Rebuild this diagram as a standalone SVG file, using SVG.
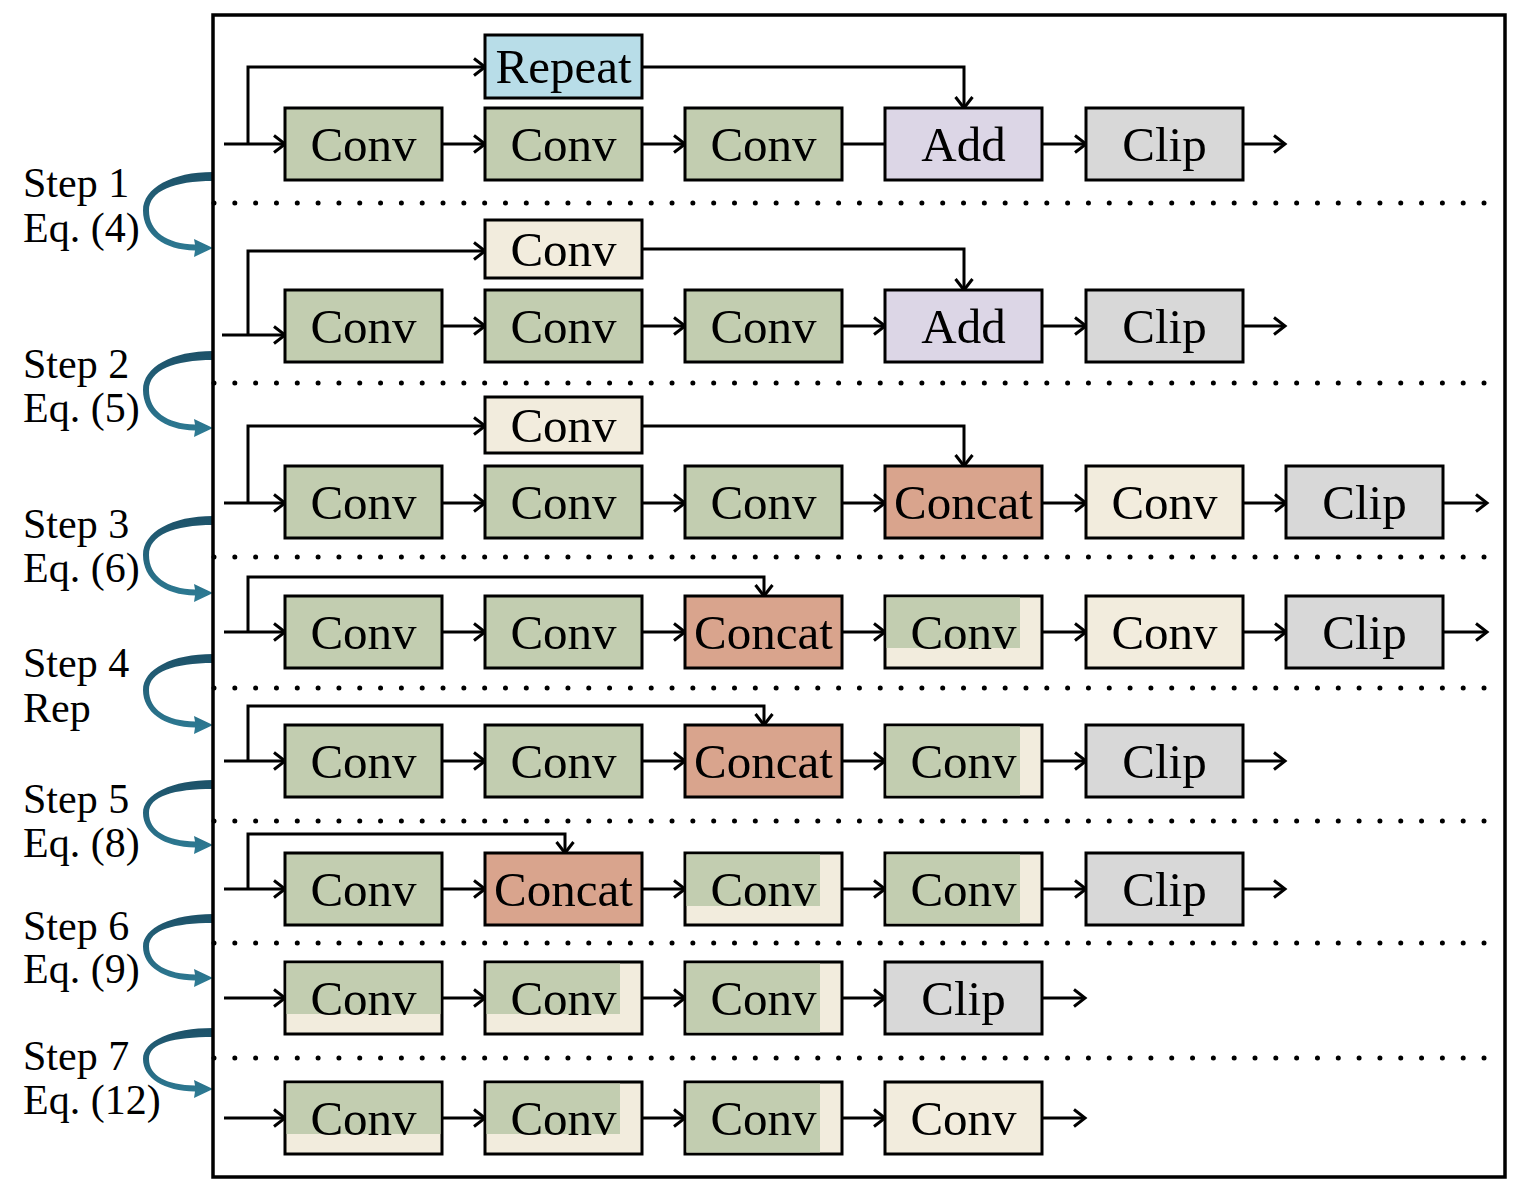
<svg xmlns="http://www.w3.org/2000/svg" width="1516" height="1195" viewBox="0 0 1516 1195">
<style>
.bx{stroke:#000;stroke-width:3}
.g{fill:#c2cdb0}.y{fill:#f2ecdd}.bl{fill:#b8dde8}.lv{fill:#dcd6e6}.gr{fill:#d8d8d8}.sa{fill:#d9a48d}
.t{font-family:"Liberation Serif","Times New Roman",serif;font-size:49px;text-anchor:middle;fill:#000}
.lb{font-family:"Liberation Serif","Times New Roman",serif;font-size:42px;fill:#000}
.c{fill:none;stroke:#000;stroke-width:3;marker-end:url(#ah)}
.n{fill:none;stroke:#000;stroke-width:3}
.dot{fill:none;stroke:#000;stroke-width:5;stroke-linecap:round;stroke-dasharray:0 20.82}
.cv{fill:url(#tg)}
</style>
<defs>
<marker id="ah" viewBox="0 0 15 20" refX="12.5" refY="10" markerWidth="15" markerHeight="20" markerUnits="userSpaceOnUse" orient="auto">
<path d="M1.5,1.5 L12.5,10 L1.5,18.5" fill="none" stroke="#000" stroke-width="3"/>
</marker>
<linearGradient id="tg" x1="0" y1="0" x2="0" y2="1">
<stop offset="0" stop-color="#1d5168"/>
<stop offset="1" stop-color="#2e7c95"/>
</linearGradient>
</defs>
<rect x="0" y="0" width="1516" height="1195" fill="#fff"/>

<g id="dotted">
<path class="dot" d="M214,203 H1485"/>
<path class="dot" d="M214,383 H1485"/>
<path class="dot" d="M214,557 H1485"/>
<path class="dot" d="M214,688 H1485"/>
<path class="dot" d="M214,821 H1485"/>
<path class="dot" d="M214,943 H1485"/>
<path class="dot" d="M214,1058 H1485"/>
</g>

<g id="connectors">
<!-- row 1 -->
<path class="c" d="M224,144 H285"/>
<path class="c" d="M248,144 V67 H485"/>
<path class="c" d="M442,144 H485"/>
<path class="c" d="M642,144 H685"/>
<path class="n" d="M842,144 H885"/>
<path class="c" d="M642,67 H964 V108"/>
<path class="c" d="M1043,144 H1086"/>
<path class="c" d="M1243,144 H1285"/>
<!-- row 2 -->
<path class="c" d="M222,335 H285"/>
<path class="c" d="M248,335 V251 H485"/>
<path class="c" d="M442,326 H485"/>
<path class="c" d="M642,326 H685"/>
<path class="c" d="M842,326 H885"/>
<path class="c" d="M642,249 H964 V290"/>
<path class="c" d="M1043,326 H1086"/>
<path class="c" d="M1243,326 H1285"/>
<!-- row 3 -->
<path class="c" d="M224,503 H285"/>
<path class="c" d="M248,503 V426 H485"/>
<path class="c" d="M442,503 H485"/>
<path class="c" d="M642,503 H685"/>
<path class="c" d="M842,503 H885"/>
<path class="c" d="M642,426 H964 V466"/>
<path class="c" d="M1043,503 H1086"/>
<path class="c" d="M1243,503 H1286"/>
<path class="c" d="M1443,503 H1487"/>
<!-- row 4 -->
<path class="c" d="M224,632 H285"/>
<path class="c" d="M248,632 V577 H764 V596"/>
<path class="c" d="M442,632 H485"/>
<path class="c" d="M642,632 H685"/>
<path class="c" d="M842,632 H885"/>
<path class="c" d="M1043,632 H1086"/>
<path class="c" d="M1243,632 H1286"/>
<path class="c" d="M1443,632 H1487"/>
<!-- row 5 -->
<path class="c" d="M224,761 H285"/>
<path class="c" d="M248,761 V706 H764 V725"/>
<path class="c" d="M442,761 H485"/>
<path class="c" d="M642,761 H685"/>
<path class="c" d="M842,761 H885"/>
<path class="c" d="M1043,761 H1086"/>
<path class="c" d="M1243,761 H1285"/>
<!-- row 6 -->
<path class="c" d="M224,889 H285"/>
<path class="c" d="M248,889 V834 H565 V853"/>
<path class="c" d="M442,889 H485"/>
<path class="c" d="M642,889 H685"/>
<path class="c" d="M842,889 H885"/>
<path class="c" d="M1043,889 H1086"/>
<path class="c" d="M1243,889 H1285"/>
<!-- row 7 -->
<path class="c" d="M224,998 H285"/>
<path class="c" d="M442,998 H485"/>
<path class="c" d="M642,998 H685"/>
<path class="c" d="M842,998 H885"/>
<path class="c" d="M1043,998 H1085"/>
<!-- row 8 -->
<path class="c" d="M224,1118 H285"/>
<path class="c" d="M442,1118 H485"/>
<path class="c" d="M642,1118 H685"/>
<path class="c" d="M842,1118 H885"/>
<path class="c" d="M1043,1118 H1085"/>
<!-- step arrows -->
<path class="cv" d="M213,172 C172,172 143,188 143,210.5 C143,234.5 164,250 195,250.5 L194,257 L213,248 L194,239 L195,244.5 C167,244 149,231.5 149,210.5 C149,191 174,181 213,181 Z"/>
<path class="cv" d="M213,351 C172,351 143,367 143,390 C143,414 164,430 195,430.5 L194,437 L213,428 L194,419 L195,424.5 C167,424 149,411 149,390 C149,370 174,360 213,360 Z"/>
<path class="cv" d="M213,516 C172,516 143,532 143,555 C143,579 164,595 195,595.5 L194,602 L213,593 L194,584 L195,589.5 C167,589 149,576 149,555 C149,535 174,525 213,525 Z"/>
<path class="cv" d="M213,654 C172,654 143,669 143,690 C143,712 164,727 195,727.5 L194,734 L213,725 L194,716 L195,721.5 C167,721 149,710 149,690 C149,672 174,663 213,663 Z"/>
<path class="cv" d="M213,780 C172,780 143,794 143,813 C143,833 164,847 195,847.5 L194,854 L213,845 L194,836 L195,841.5 C167,841 149,831 149,813 C149,796 174,789 213,789 Z"/>
<path class="cv" d="M213,914 C172,914 143,928 143,946.5 C143,966.5 164,980 195,980.5 L194,987 L213,978 L194,969 L195,974.5 C167,974 149,964 149,946.5 C149,930 174,923 213,923 Z"/>
<path class="cv" d="M213,1028 C172,1028 143,1041 143,1059 C143,1078 164,1091 195,1091.5 L194,1098 L213,1089 L194,1080 L195,1085.5 C167,1085 149,1076 149,1059 C149,1043 174,1037 213,1037 Z"/>
</g>

<rect id="frame" x="213" y="15" width="1292" height="1162" fill="none" stroke="#000" stroke-width="3.5"/>

<g id="labels">
<text class="lb" x="23" y="197">Step 1</text><text class="lb" x="23" y="242">Eq. (4)</text>
<text class="lb" x="23" y="378">Step 2</text><text class="lb" x="23" y="422">Eq. (5)</text>
<text class="lb" x="23" y="538">Step 3</text><text class="lb" x="23" y="582">Eq. (6)</text>
<text class="lb" x="23" y="677">Step 4</text><text class="lb" x="23" y="722">Rep</text>
<text class="lb" x="23" y="813">Step 5</text><text class="lb" x="23" y="857">Eq. (8)</text>
<text class="lb" x="23" y="940">Step 6</text><text class="lb" x="23" y="983">Eq. (9)</text>
<text class="lb" x="23" y="1070">Step 7</text><text class="lb" x="23" y="1114">Eq. (12)</text>
</g>

<!-- Row 1 -->
<g id="r1-repeat"><rect class="bx bl" x="485" y="35" width="157" height="63"/><text class="t" x="563.5" y="83">Repeat</text></g>
<g id="r1-conv1"><rect class="bx g" x="285" y="108" width="157" height="72"/><text class="t" x="363.5" y="160.5">Conv</text></g>
<g id="r1-conv2"><rect class="bx g" x="485" y="108" width="157" height="72"/><text class="t" x="563.5" y="160.5">Conv</text></g>
<g id="r1-conv3"><rect class="bx g" x="685" y="108" width="157" height="72"/><text class="t" x="763.5" y="160.5">Conv</text></g>
<g id="r1-add"><rect class="bx lv" x="885" y="108" width="157" height="72"/><text class="t" x="963.5" y="160.5">Add</text></g>
<g id="r1-clip"><rect class="bx gr" x="1086" y="108" width="157" height="72"/><text class="t" x="1164.5" y="160.5">Clip</text></g>

<!-- Row 2 -->
<g id="r2-convup"><rect class="bx y" x="485" y="220" width="157" height="58"/><text class="t" x="563.5" y="265.5">Conv</text></g>
<g id="r2-conv1"><rect class="bx g" x="285" y="290" width="157" height="72"/><text class="t" x="363.5" y="342.5">Conv</text></g>
<g id="r2-conv2"><rect class="bx g" x="485" y="290" width="157" height="72"/><text class="t" x="563.5" y="342.5">Conv</text></g>
<g id="r2-conv3"><rect class="bx g" x="685" y="290" width="157" height="72"/><text class="t" x="763.5" y="342.5">Conv</text></g>
<g id="r2-add"><rect class="bx lv" x="885" y="290" width="157" height="72"/><text class="t" x="963.5" y="342.5">Add</text></g>
<g id="r2-clip"><rect class="bx gr" x="1086" y="290" width="157" height="72"/><text class="t" x="1164.5" y="342.5">Clip</text></g>

<!-- Row 3 -->
<g id="r3-convup"><rect class="bx y" x="485" y="397" width="157" height="56"/><text class="t" x="563.5" y="441.5">Conv</text></g>
<g id="r3-conv1"><rect class="bx g" x="285" y="466" width="157" height="72"/><text class="t" x="363.5" y="518.5">Conv</text></g>
<g id="r3-conv2"><rect class="bx g" x="485" y="466" width="157" height="72"/><text class="t" x="563.5" y="518.5">Conv</text></g>
<g id="r3-conv3"><rect class="bx g" x="685" y="466" width="157" height="72"/><text class="t" x="763.5" y="518.5">Conv</text></g>
<g id="r3-concat"><rect class="bx sa" x="885" y="466" width="157" height="72"/><text class="t" x="963.5" y="518.5">Concat</text></g>
<g id="r3-conv4"><rect class="bx y" x="1086" y="466" width="157" height="72"/><text class="t" x="1164.5" y="518.5">Conv</text></g>
<g id="r3-clip"><rect class="bx gr" x="1286" y="466" width="157" height="72"/><text class="t" x="1364.5" y="518.5">Clip</text></g>

<!-- Row 4 -->
<g id="r4-conv1"><rect class="bx g" x="285" y="596" width="157" height="72"/><text class="t" x="363.5" y="648.5">Conv</text></g>
<g id="r4-conv2"><rect class="bx g" x="485" y="596" width="157" height="72"/><text class="t" x="563.5" y="648.5">Conv</text></g>
<g id="r4-concat"><rect class="bx sa" x="685" y="596" width="157" height="72"/><text class="t" x="763.5" y="648.5">Concat</text></g>
<g id="r4-conv3"><rect class="bx y" x="885" y="596" width="157" height="72"/><rect class="g" x="886.5" y="597.5" width="133.5" height="50.5"/><text class="t" x="963.5" y="648.5">Conv</text></g>
<g id="r4-conv4"><rect class="bx y" x="1086" y="596" width="157" height="72"/><text class="t" x="1164.5" y="648.5">Conv</text></g>
<g id="r4-clip"><rect class="bx gr" x="1286" y="596" width="157" height="72"/><text class="t" x="1364.5" y="648.5">Clip</text></g>

<!-- Row 5 -->
<g id="r5-conv1"><rect class="bx g" x="285" y="725" width="157" height="72"/><text class="t" x="363.5" y="777.5">Conv</text></g>
<g id="r5-conv2"><rect class="bx g" x="485" y="725" width="157" height="72"/><text class="t" x="563.5" y="777.5">Conv</text></g>
<g id="r5-concat"><rect class="bx sa" x="685" y="725" width="157" height="72"/><text class="t" x="763.5" y="777.5">Concat</text></g>
<g id="r5-conv3"><rect class="bx y" x="885" y="725" width="157" height="72"/><rect class="g" x="886.5" y="726.5" width="133.5" height="69"/><text class="t" x="963.5" y="777.5">Conv</text></g>
<g id="r5-clip"><rect class="bx gr" x="1086" y="725" width="157" height="72"/><text class="t" x="1164.5" y="777.5">Clip</text></g>

<!-- Row 6 -->
<g id="r6-conv1"><rect class="bx g" x="285" y="853" width="157" height="72"/><text class="t" x="363.5" y="905.5">Conv</text></g>
<g id="r6-concat"><rect class="bx sa" x="485" y="853" width="157" height="72"/><text class="t" x="563.5" y="905.5">Concat</text></g>
<g id="r6-conv2"><rect class="bx y" x="685" y="853" width="157" height="72"/><rect class="g" x="686.5" y="854.5" width="133.5" height="51.5"/><text class="t" x="763.5" y="905.5">Conv</text></g>
<g id="r6-conv3"><rect class="bx y" x="885" y="853" width="157" height="72"/><rect class="g" x="886.5" y="854.5" width="133.5" height="69"/><text class="t" x="963.5" y="905.5">Conv</text></g>
<g id="r6-clip"><rect class="bx gr" x="1086" y="853" width="157" height="72"/><text class="t" x="1164.5" y="905.5">Clip</text></g>

<!-- Row 7 -->
<g id="r7-conv1"><rect class="bx y" x="285" y="962" width="157" height="72"/><rect class="g" x="286.5" y="963.5" width="154" height="50.5"/><text class="t" x="363.5" y="1014.5">Conv</text></g>
<g id="r7-conv2"><rect class="bx y" x="485" y="962" width="157" height="72"/><rect class="g" x="486.5" y="963.5" width="133.5" height="50.5"/><text class="t" x="563.5" y="1014.5">Conv</text></g>
<g id="r7-conv3"><rect class="bx y" x="685" y="962" width="157" height="72"/><rect class="g" x="686.5" y="963.5" width="133.5" height="69"/><text class="t" x="763.5" y="1014.5">Conv</text></g>
<g id="r7-clip"><rect class="bx gr" x="885" y="962" width="157" height="72"/><text class="t" x="963.5" y="1014.5">Clip</text></g>

<!-- Row 8 -->
<g id="r8-conv1"><rect class="bx y" x="285" y="1082" width="157" height="72"/><rect class="g" x="286.5" y="1083.5" width="154" height="50.5"/><text class="t" x="363.5" y="1134.5">Conv</text></g>
<g id="r8-conv2"><rect class="bx y" x="485" y="1082" width="157" height="72"/><rect class="g" x="486.5" y="1083.5" width="133.5" height="50.5"/><text class="t" x="563.5" y="1134.5">Conv</text></g>
<g id="r8-conv3"><rect class="bx y" x="685" y="1082" width="157" height="72"/><rect class="g" x="686.5" y="1083.5" width="133.5" height="69"/><text class="t" x="763.5" y="1134.5">Conv</text></g>
<g id="r8-conv4"><rect class="bx y" x="885" y="1082" width="157" height="72"/><text class="t" x="963.5" y="1134.5">Conv</text></g>
</svg>
